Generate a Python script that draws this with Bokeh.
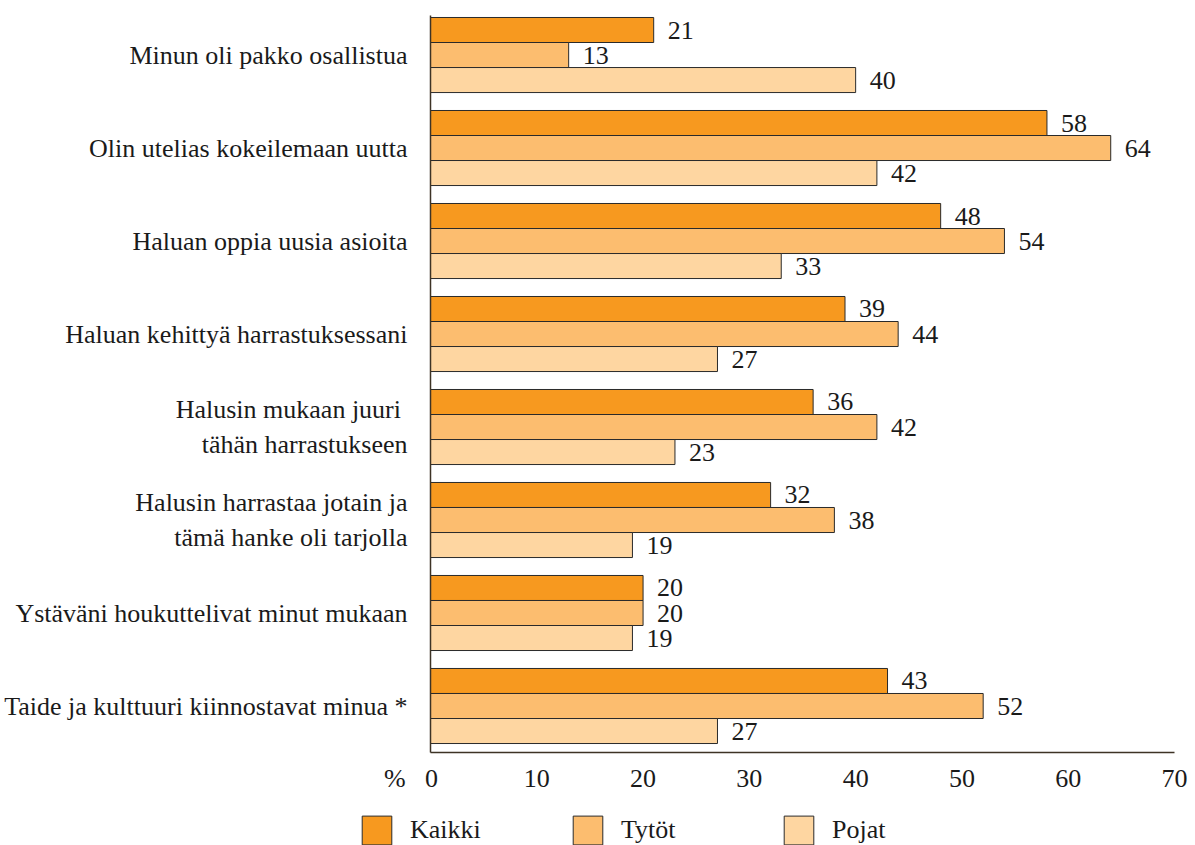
from bokeh.plotting import figure
from bokeh.layouts import column
from bokeh.models import Range1d, FixedTicker, ColumnDataSource, Legend, LegendItem
from bokeh.core.properties import value
from bokeh.embed import file_html
from bokeh.resources import INLINE

categories = [
    "Minun oli pakko osallistua",
    "Olin utelias kokeilemaan uutta",
    "Haluan oppia uusia asioita",
    "Haluan kehittyä harrastuksessani",
    "Halusin mukaan juuri \ntähän harrastukseen",
    "Halusin harrastaa jotain ja\ntämä hanke oli tarjolla",
    "Ystäväni houkuttelivat minut mukaan",
    "Taide ja kulttuuri kiinnostavat minua *",
]
series = ["Kaikki", "Tytöt", "Pojat"]
kaikki = [21, 58, 48, 39, 36, 32, 20, 43]
tytot = [13, 64, 54, 44, 42, 38, 20, 52]
pojat = [40, 42, 33, 27, 23, 19, 19, 27]
x_ticks = [0, 10, 20, 30, 40, 50, 60, 70]
unit_label = "%"

colors = ["#F7991F", "#FCBD6F", "#FED6A1"]
FONT = "Liberation Serif"
FS = "26px"
NB = "\u00a0"
W = 1190

p = figure(width=W, height=800, output_backend="svg", toolbar_location=None,
           x_range=Range1d(0, 70), y_range=Range1d(7.5, -0.425),
           min_border_left=430, min_border_right=16, min_border_top=15, min_border_bottom=48)
p.outline_line_color = None
p.grid.grid_line_color = None
p.background_fill_color = "white"

bh = 0.269
offsets = [-bh, 0.0, bh]
for vals, off, col in zip([kaikki, tytot, pojat], offsets, colors):
    src = ColumnDataSource(dict(y=[i + off for i in range(len(categories))], v=vals,
                                t=[str(v) for v in vals]))
    p.hbar(y="y", right="v", left=0, height=bh, source=src, fill_color=col,
           line_color="#2a2a2a", line_width=1)
    p.text(x="v", y="y", text="t", source=src, x_offset=14, text_baseline="middle",
           text_align="left", text_font=value(FONT), text_font_size=FS, text_color="#1a1a1a")

ax = p.xaxis[0]
ax.ticker = FixedTicker(ticks=x_ticks)
ax.major_label_overrides = {0: unit_label + NB * 3 + "0" + NB * 6}
ax.major_tick_line_color = None
ax.minor_tick_line_color = None
ax.axis_line_color = "#3d3325"
ax.axis_line_width = 1.5
ax.major_label_text_font = FONT
ax.major_label_text_font_size = FS
ax.major_label_text_color = "#1a1a1a"
ax.major_label_standoff = 5

ay = p.yaxis[0]
ay.ticker = FixedTicker(ticks=list(range(len(categories))))
ay.major_label_overrides = {i: c for i, c in enumerate(categories)}
ay.major_tick_line_color = None
ay.minor_tick_line_color = None
ay.axis_line_color = "#3d3325"
ay.axis_line_width = 1.5
ay.major_label_text_font = FONT
ay.major_label_text_font_size = FS
ay.major_label_text_color = "#1a1a1a"
ay.major_label_standoff = 17

# legend strip below the chart (proxy bars lie outside its visible range)
lf = figure(width=W, height=45, output_backend="svg", toolbar_location=None,
            x_range=Range1d(0, W), y_range=Range1d(0, 45), x_axis_type=None, y_axis_type=None,
            min_border=0)
lf.frame_align = False
lf.outline_line_color = None
lf.grid.grid_line_color = None
items = []
for name, col in zip(series, colors):
    r = lf.hbar(y=[-100], right=[1], left=0, height=1, fill_color=col, line_color="#2a2a2a",
                line_width=1)
    items.append(LegendItem(label=name, renderers=[r]))
lg = Legend(items=items, location=(358, -3), orientation="horizontal", padding=0, margin=0,
            spacing=0, border_line_alpha=0, background_fill_alpha=0, glyph_width=37,
            glyph_height=36, label_height=36, label_width=159, label_standoff=15,
            label_text_font=FONT, label_text_font_size=FS, label_text_color="#1a1a1a")
lf.add_layout(lg, "center")

open("out.html", "w").write(file_html(column(p, lf, spacing=0), INLINE))
